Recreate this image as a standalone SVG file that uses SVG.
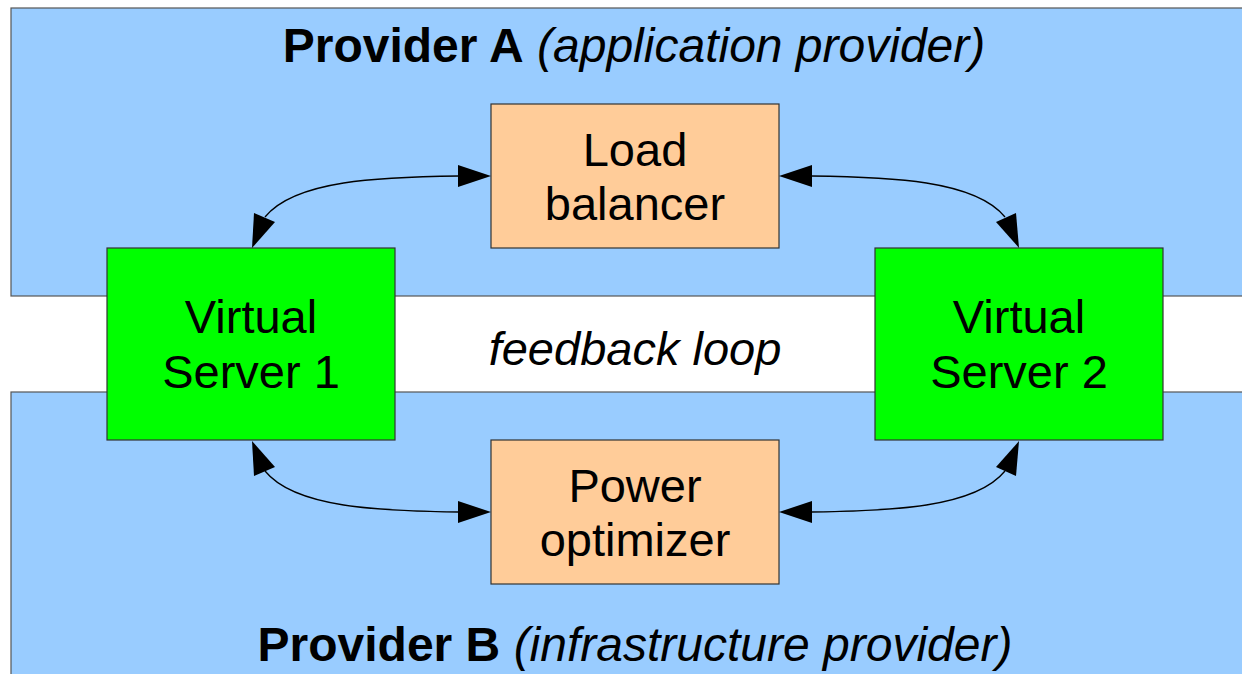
<svg xmlns="http://www.w3.org/2000/svg" width="1242" height="674" viewBox="0 0 1242 674">
  <style>
    .zone { fill: #99ccff; stroke: #555555; stroke-width: 1.2; }
    .vs { fill: #00ff00; stroke: #333333; stroke-width: 1.2; }
    .svc { fill: #ffcc99; stroke: #333333; stroke-width: 1.2; }
    .label { font-family: "Liberation Sans", Arial, sans-serif; font-size: 47px; fill: #000000; text-anchor: middle; }
    .title { font-family: "Liberation Sans", Arial, sans-serif; font-size: 48px; fill: #000000; text-anchor: middle; }
    .wire { fill: none; stroke: #000000; stroke-width: 1.3; }
    .head { fill: #000000; }
  </style>
  <rect width="1242" height="674" fill="#ffffff"/>

  <!-- provider zones -->
  <g id="providerA">
    <rect class="zone" x="11" y="8" width="1240" height="288"/>
    <text class="title" x="634" y="62"><tspan font-weight="bold">Provider A</tspan> <tspan font-style="italic">(application provider)</tspan></text>
  </g>
  <g id="providerB">
    <rect class="zone" x="11" y="392" width="1240" height="300"/>
    <text class="title" x="635" y="661"><tspan font-weight="bold">Provider B</tspan> <tspan font-style="italic">(infrastructure provider)</tspan></text>
  </g>

  <text id="feedback" class="label" x="635" y="365" font-style="italic" font-size="47.5">feedback loop</text>

  <!-- nodes -->
  <g id="loadBalancer">
    <rect class="svc" x="491" y="104" width="288" height="144"/>
    <text class="label" x="635" y="166">Load</text>
    <text class="label" x="635" y="220">balancer</text>
  </g>
  <g id="powerOptimizer">
    <rect class="svc" x="491" y="440" width="288" height="144"/>
    <text class="label" x="635" y="502">Power</text>
    <text class="label" x="635" y="556">optimizer</text>
  </g>
  <g id="virtualServer1">
    <rect class="vs" x="107" y="248" width="288" height="192"/>
    <text class="label" x="251" y="333">Virtual</text>
    <text class="label" x="251" y="388">Server 1</text>
  </g>
  <g id="virtualServer2">
    <rect class="vs" x="875" y="248" width="288" height="192"/>
    <text class="label" x="1019" y="333">Virtual</text>
    <text class="label" x="1019" y="388">Server 2</text>
  </g>

  <!-- connectors: double-headed curved arrows -->
  <g id="connectors">
    <path class="wire" d="M 265,217 C 295,180 380,177 459,176"/>
    <polygon class="head" points="491,176 458,165 458,187"/>
    <polygon class="head" points="252,248 254,213 275,222"/>

    <path class="wire" d="M 811,176 C 890,177 975,180 1005,217"/>
    <polygon class="head" points="779,176 812,165 812,187"/>
    <polygon class="head" points="1019,248 996,222 1016,213"/>

    <path class="wire" d="M 265,471 C 295,508 380,511 459,512"/>
    <polygon class="head" points="491,512 458,501 458,523"/>
    <polygon class="head" points="252,441 254,476 275,467"/>

    <path class="wire" d="M 811,512 C 890,511 975,508 1005,471"/>
    <polygon class="head" points="779,512 812,501 812,523"/>
    <polygon class="head" points="1019,441 996,467 1016,476"/>
  </g>
</svg>
